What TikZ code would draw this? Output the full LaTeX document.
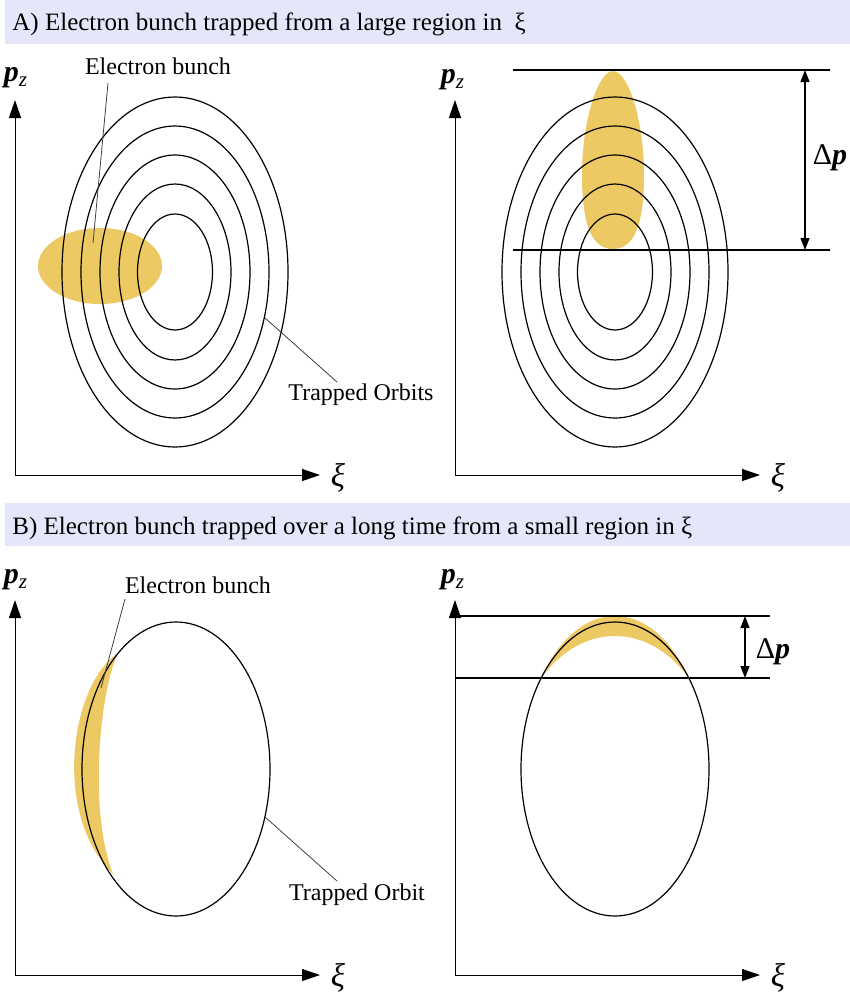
\documentclass[tikz,border=0pt]{standalone}
\usepackage{fontspec}
\setmainfont{Liberation Serif}
\usetikzlibrary{arrows.meta}
\definecolor{bunch}{RGB}{237,201,99}
\definecolor{band}{RGB}{230,230,250}
\begin{document}
\begin{tikzpicture}[x=0.5pt,y=-0.5pt,
  orbit/.style={draw=black, line width=0.6pt},
  axisarrow/.style={line width=0.5pt, -{Triangle[length=9pt,width=6pt]}},
  hline/.style={line width=0.7pt},
  dimarrow/.style={line width=0.6pt, {Triangle[length=6pt,width=4.5pt]}-{Triangle[length=6pt,width=4.5pt]}},
  leader/.style={draw=black!75, line width=0.4pt},
  lbl/.style={font=\fontsize{12}{14}\selectfont, inner sep=0pt},
  hdr/.style={font=\fontsize{12.5}{15}\selectfont, anchor=base west, inner sep=0pt},
  axlbl/.style={font=\fontsize{15}{17}\selectfont, inner sep=0pt},
  xilbl/.style={font=\fontsize{16.5}{18}\selectfont, inner sep=0pt}]
\useasboundingbox (0,0) rectangle (850,997);

% ---------- headers
\fill[band] (5,0) rectangle (850,44);
\node[hdr] (hA) at (12,30) {A) Electron bunch trapped from a large region in \ ξ};
\fill[band] (5,503) rectangle (850,546);
\node[hdr] (hB) at (12,534) {B) Electron bunch trapped over a long time from a small region in ξ};

% ---------- panel A left
\fill[bunch] (100,266) ellipse[x radius=62, y radius=38];
\foreach \rx/\ry in {113/175, 94/146, 75/117, 56/88, 37.5/58}
  \draw[orbit] (175,272) ellipse[x radius=\rx, y radius=\ry];
\coordinate (oA1) at (15,475);
\coordinate (yA1) at (15,100);
\coordinate (xA1) at (320,475);
\draw[axisarrow] (oA1) -- (yA1);
\draw[axisarrow] (oA1) -- (xA1);
\node[axlbl] (pzA1) at (16,78) {\textbf{\textit{p}}\textsubscript{\textit{z}}};
\node[xilbl] (xiA1) at (338,478) {\textit{ξ}};
\node[lbl] (ebA) at (158,66) {Electron bunch};
\coordinate (ebA1) at (108,83);
\coordinate (ebA2) at (93,243);
\draw[leader] (ebA1) -- (ebA2);
\node[lbl] (toA) at (361,395) {Trapped Orbits};
\coordinate (toA1) at (265,318);
\coordinate (toA2) at (337,382);
\draw[leader] (toA1) -- (toA2);

% ---------- panel A right
\fill[bunch] (613,71) .. controls (598,71) and (582,120) .. (582,175)
  .. controls (582,230) and (594,249) .. (613,249)
  .. controls (632,249) and (644,230) .. (644,175)
  .. controls (644,120) and (628,71) .. (613,71) -- cycle;
\foreach \rx/\ry in {113/175, 94/146, 75/117, 56/88, 37.5/58}
  \draw[orbit] (615,272) ellipse[x radius=\rx, y radius=\ry];
\coordinate (tlA) at (513,70);
\coordinate (trA) at (830,70);
\coordinate (blA) at (513,250);
\coordinate (brA) at (830,250);
\draw[hline] (tlA) -- (trA);
\draw[hline] (blA) -- (brA);
\coordinate (dA1) at (805,70);
\coordinate (dA2) at (805,250);
\draw[dimarrow] (dA1) -- (dA2);
\node[axlbl] (dpA) at (830,158) {Δ\textbf{\textit{p}}};
\coordinate (oA2) at (455,475);
\coordinate (yA2) at (455,100);
\coordinate (xA2) at (760,475);
\draw[axisarrow] (oA2) -- (yA2);
\draw[axisarrow] (oA2) -- (xA2);
\node[axlbl] (pzA2) at (453,80) {\textbf{\textit{p}}\textsubscript{\textit{z}}};
\node[xilbl] (xiA2) at (778,478) {\textit{ξ}};

% ---------- panel B left
\fill[bunch] (118,653) .. controls (70,685) and (52,815) .. (113,874)
  .. controls (88,810) and (100,690) .. (118,653) -- cycle;
\draw[orbit] (176,769) ellipse[x radius=94, y radius=147];
\coordinate (oB1) at (15,975);
\coordinate (yB1) at (15,600);
\coordinate (xB1) at (320,975);
\draw[axisarrow] (oB1) -- (yB1);
\draw[axisarrow] (oB1) -- (xB1);
\node[axlbl] (pzB1) at (16,580) {\textbf{\textit{p}}\textsubscript{\textit{z}}};
\node[xilbl] (xiB1) at (338,978) {\textit{ξ}};
\node[lbl] (ebB) at (198,585) {Electron bunch};
\coordinate (ebB1) at (125,599);
\coordinate (ebB2) at (101,688);
\draw[leader] (ebB1) -- (ebB2);
\node[lbl] (toB) at (357,895) {Trapped Orbit};
\coordinate (toB1) at (265,817);
\coordinate (toB2) at (337,881);
\draw[leader] (toB1) -- (toB2);

% ---------- panel B right
\begin{scope}
  \clip (455,600) rectangle (770,679);
  \fill[bunch, even odd rule] (615,769) ellipse[x radius=91.8, y radius=153]
                              (615,769) ellipse[x radius=101, y radius=133];
\end{scope}
\draw[orbit] (615,769) ellipse[x radius=94, y radius=147];
\coordinate (tlB) at (455,616);
\coordinate (trB) at (770,616);
\coordinate (blB) at (455,678);
\coordinate (brB) at (770,678);
\draw[hline] (tlB) -- (trB);
\draw[hline] (blB) -- (brB);
\coordinate (dB1) at (745,616);
\coordinate (dB2) at (745,678);
\draw[dimarrow] (dB1) -- (dB2);
\node[axlbl] (dpB) at (773,652) {Δ\textbf{\textit{p}}};
\coordinate (oB2) at (455,975);
\coordinate (yB2) at (455,600);
\coordinate (xB2) at (760,975);
\draw[axisarrow] (oB2) -- (yB2);
\draw[axisarrow] (oB2) -- (xB2);
\node[axlbl] (pzB2) at (453,580) {\textbf{\textit{p}}\textsubscript{\textit{z}}};
\node[xilbl] (xiB2) at (778,978) {\textit{ξ}};
\end{tikzpicture}
\end{document}
